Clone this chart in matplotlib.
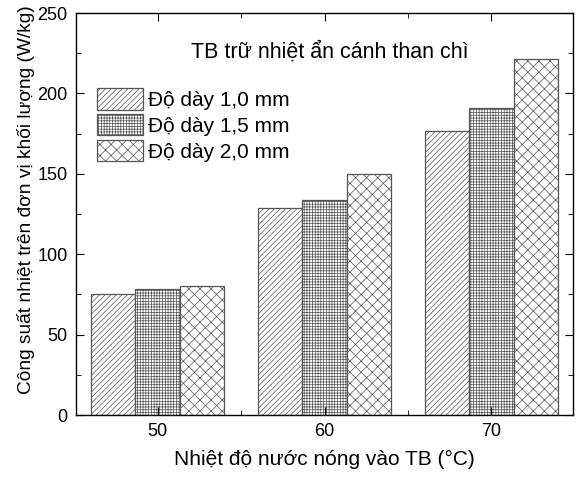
import numpy as np
import matplotlib
matplotlib.use('Agg')
import matplotlib.pyplot as plt
from matplotlib.ticker import MultipleLocator

plt.rcParams['font.family'] = ['Liberation Sans', 'DejaVu Sans']
plt.rcParams['hatch.linewidth'] = 0.5

temps = ['50', '60', '70']
series = ['Độ dày 1,0 mm', 'Độ dày 1,5 mm', 'Độ dày 2,0 mm']
d10 = [75.5, 128.5, 176.5]
d15 = [78.5, 133.5, 191.0]
d20 = [80.5, 150.0, 221.5]
hatches = ['//////', '++++++', 'xxx']

fig = plt.figure(figsize=(5.81, 4.79), dpi=100)
ax = fig.add_axes([76/581, 1 - 415/479, (573-76)/581, (415-13)/479])

x = np.arange(len(temps))
w = 0.8 / 3
for i, (vals, lab, h) in enumerate(zip([d10, d15, d20], series, hatches)):
    ax.bar(x + (i - 1) * w, vals, w, label=lab, hatch=h,
           facecolor='white', edgecolor='#555555', linewidth=0.9)

ax.set_xlim(-0.49, 2.49)
ax.set_ylim(0, 250)
ax.set_xticks(x)
ax.set_xticklabels(temps)
ax.set_xticks([0.5, 1.5], minor=True)
ax.yaxis.set_major_locator(MultipleLocator(50))
ax.yaxis.set_minor_locator(MultipleLocator(25))
ax.tick_params(which='both', direction='in', top=True, right=True, labelsize=13, pad=6)
ax.tick_params(which='major', length=6)
ax.tick_params(which='minor', length=3.5)
for s in ax.spines.values():
    s.set_linewidth(1.0)

ax.set_xlabel('Nhiệt độ nước nóng vào TB (°C)', fontsize=15)
ax.set_ylabel('Công suất nhiệt trên đơn vị khối lượng (W/kg)', fontsize=13.8)
ax.xaxis.set_label_coords(0.5, -(450 - 415) / 402, transform=ax.transAxes)
ax.yaxis.set_label_coords(-(76 - 35) / 497, (415 - 200) / 402, transform=ax.transAxes)

ax.text(0.511, 0.903, 'TB trữ nhiệt ẩn cánh than chì', transform=ax.transAxes,
        ha='center', va='center', fontsize=15.5)
leg = ax.legend(loc='upper left', bbox_to_anchor=(0.042, 0.813), frameon=False,
                fontsize=15, handlelength=2.2, handleheight=1.2,
                handletextpad=0.25, labelspacing=0.2, borderaxespad=0, borderpad=0)

fig.savefig('out.png', dpi=100)
